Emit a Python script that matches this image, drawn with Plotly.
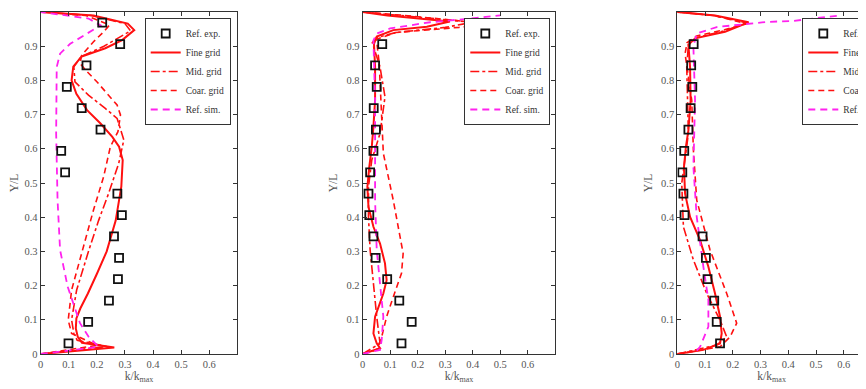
import plotly.graph_objects as go

# ---------------- data ----------------
EXP_Y = [0.969, 0.906, 0.844, 0.781, 0.719, 0.656, 0.594, 0.531, 0.469, 0.406,
         0.344, 0.281, 0.219, 0.156, 0.094, 0.031]
EXP_Y_23 = EXP_Y[1:]

P1_EXP_X = [0.219, 0.283, 0.163, 0.093, 0.146, 0.213, 0.073, 0.087, 0.273, 0.289,
            0.261, 0.279, 0.275, 0.243, 0.169, 0.099]
P2_EXP_X = [0.071, 0.045, 0.051, 0.040, 0.048, 0.039, 0.027, 0.021, 0.024, 0.039,
            0.047, 0.089, 0.133, 0.178, 0.141]
P3_EXP_X = [0.059, 0.050, 0.054, 0.048, 0.040, 0.025, 0.018, 0.022, 0.026, 0.091,
            0.103, 0.109, 0.133, 0.142, 0.154]

P1_FINE_Y = [0, 0.019, 0.033, 0.05, 0.075, 0.104, 0.133, 0.177, 0.236, 0.30, 0.39, 0.489,
             0.567, 0.606, 0.635, 0.674, 0.713, 0.761, 0.800, 0.840, 0.870, 0.894, 0.918,
             0.947, 0.966, 0.990, 1.0]
P1_FINE_X = [0, 0.262, 0.147, 0.132, 0.125, 0.127, 0.141, 0.168, 0.201, 0.235, 0.267, 0.287,
             0.292, 0.279, 0.255, 0.213, 0.165, 0.127, 0.110, 0.116, 0.146, 0.23, 0.29,
             0.333, 0.31, 0.188, 0]
P1_MID_Y = [0, 0.022, 0.040, 0.06, 0.10, 0.187, 0.30, 0.39, 0.47, 0.558, 0.626, 0.689,
            0.718, 0.757, 0.796, 0.84, 0.87, 0.90, 0.945, 0.966, 0.99, 1.0]
P1_MID_X = [0, 0.235, 0.13, 0.118, 0.11, 0.128, 0.17, 0.206, 0.242, 0.278, 0.296, 0.272,
            0.23, 0.17, 0.122, 0.118, 0.145, 0.225, 0.32, 0.30, 0.18, 0]
P1_COAR_Y = [0, 0.025, 0.06, 0.099, 0.187, 0.333, 0.421, 0.518, 0.606, 0.65, 0.699, 0.728,
             0.757, 0.796, 0.83, 0.85, 0.874, 0.913, 0.942, 0.962, 0.99, 1.0]
P1_COAR_X = [0, 0.20, 0.11, 0.098, 0.110, 0.158, 0.188, 0.224, 0.248, 0.275, 0.284, 0.272,
             0.242, 0.20, 0.160, 0.140, 0.146, 0.188, 0.224, 0.245, 0.16, 0]
P1_SIM_Y = [0.0, 0.021, 0.05, 0.09, 0.197, 0.304, 0.45, 0.645, 0.839, 0.878, 0.907, 0.937,
            0.961, 0.981, 1.0]
P1_SIM_X = [0, 0.206, 0.171, 0.14, 0.096, 0.069, 0.06, 0.055, 0.057, 0.069, 0.105, 0.165,
            0.213, 0.17, 0]

P2_FINE_Y = [0, 0.017, 0.031, 0.06, 0.109, 0.177, 0.216, 0.265, 0.323, 0.372, 0.43, 0.489,
             0.547, 0.606, 0.664, 0.742, 0.839, 0.907, 0.928, 0.947, 0.957, 0.972, 0.99, 1.0]
P2_FINE_X = [0, 0.063, 0.051, 0.039, 0.045, 0.075, 0.087, 0.081, 0.063, 0.039, 0.021, 0.017,
             0.024, 0.033, 0.039, 0.045, 0.045, 0.041, 0.051, 0.111, 0.233, 0.317, 0.09, 0]
P2_MID_Y = [0, 0.031, 0.109, 0.206, 0.304, 0.401, 0.489, 0.567, 0.645, 0.752, 0.839, 0.91,
            0.925, 0.94, 0.955, 0.97, 0.99, 1.0]
P2_MID_X = [0, 0.063, 0.051, 0.039, 0.027, 0.021, 0.021, 0.033, 0.063, 0.081, 0.063, 0.035,
            0.05, 0.12, 0.30, 0.40, 0.12, 0]
P2_COAR_Y = [0, 0.012, 0.05, 0.109, 0.167, 0.236, 0.294, 0.45, 0.587, 0.664, 0.75, 0.85,
             0.92, 0.94, 0.955, 0.965, 0.99, 1.0]
P2_COAR_X = [0, 0.051, 0.069, 0.087, 0.111, 0.141, 0.147, 0.111, 0.075, 0.07, 0.065, 0.06,
             0.05, 0.12, 0.35, 0.47, 0.15, 0]
P2_SIM_Y = [0, 0.012, 0.041, 0.109, 0.206, 0.304, 0.45, 0.742, 0.917, 0.937, 0.952, 0.97,
            0.98, 0.99]
P2_SIM_X = [0, 0.063, 0.069, 0.075, 0.063, 0.051, 0.045, 0.045, 0.039, 0.051, 0.1, 0.245,
            0.38, 0.5]

P3_FINE_Y = [0, 0.012, 0.031, 0.06, 0.109, 0.177, 0.255, 0.333, 0.401, 0.469, 0.547, 0.606,
             0.654, 0.742, 0.839, 0.904, 0.923, 0.942, 0.97, 0.99, 1.0]
P3_FINE_X = [0, 0.094, 0.154, 0.160, 0.154, 0.136, 0.112, 0.082, 0.046, 0.028, 0.024, 0.031,
             0.040, 0.048, 0.046, 0.04, 0.064, 0.172, 0.257, 0.136, 0]
P3_MID_Y = [0, 0.026, 0.05, 0.099, 0.177, 0.275, 0.372, 0.499, 0.645, 0.839, 0.904, 0.925,
            0.945, 0.968, 0.99, 1.0]
P3_MID_X = [0, 0.142, 0.178, 0.154, 0.106, 0.058, 0.022, 0.016, 0.040, 0.034, 0.04, 0.07,
            0.17, 0.25, 0.13, 0]
P3_COAR_Y = [0, 0.021, 0.05, 0.09, 0.177, 0.304, 0.45, 0.596, 0.742, 0.878, 0.91, 0.93,
             0.948, 0.966, 0.99, 1.0]
P3_COAR_X = [0, 0.154, 0.19, 0.214, 0.178, 0.118, 0.07, 0.058, 0.052, 0.028, 0.035, 0.07,
             0.17, 0.25, 0.13, 0]
P3_SIM_Y = [0.01, 0.021, 0.08, 0.158, 0.255, 0.401, 0.547, 0.742, 0.898, 0.937, 0.956, 0.971,
            0.974, 0.99]
P3_SIM_X = [0.07, 0.082, 0.112, 0.112, 0.094, 0.07, 0.058, 0.064, 0.058, 0.07, 0.142, 0.322,
            0.418, 0.586]

NAMES = ["Ref. exp.", "Fine grid", "Mid. grid", "Coar. grid", "Ref. sim."]
X_TICKS = [0, 0.1, 0.2, 0.3, 0.4, 0.5, 0.6]
Y_TICKS = [0, 0.1, 0.2, 0.3, 0.4, 0.5, 0.6, 0.7, 0.8, 0.9, 1]

# ---------------- styles ----------------
RED = "#ff1010"
MAG = "#ff22ee"
FONT = "Liberation Serif"
OFF = 8                      # page body margin
W, H = 866 - OFF, 389 - OFF  # figure size that fits the window


def px_x(v):
    return (v - OFF) / W


def px_y(v):
    return (389 - v) / H


panels = [
    dict(exp=(P1_EXP_X, EXP_Y), fine=(P1_FINE_X, P1_FINE_Y), mid=(P1_MID_X, P1_MID_Y),
         coar=(P1_COAR_X, P1_COAR_Y), sim=(P1_SIM_X, P1_SIM_Y)),
    dict(exp=(P2_EXP_X, EXP_Y_23), fine=(P2_FINE_X, P2_FINE_Y), mid=(P2_MID_X, P2_MID_Y),
         coar=(P2_COAR_X, P2_COAR_Y), sim=(P2_SIM_X, P2_SIM_Y)),
    dict(exp=(P3_EXP_X, EXP_Y_23), fine=(P3_FINE_X, P3_FINE_Y), mid=(P3_MID_X, P3_MID_Y),
         coar=(P3_COAR_X, P3_COAR_Y), sim=(P3_SIM_X, P3_SIM_Y)),
]

# pixel geometry of the three frames (window pixels)
x_px = [(40.7, 237.3), (362.7, 555.3), (677.3, 866.0)]
x_rng = [0.7, 0.7, 0.68]
y_dom = [px_y(354), px_y(12)]
legend_pos = [(px_x(230.7), "right"), (px_x(550.3), "right"), (px_x(802.3), "left")]

fig = go.Figure()
for i, p in enumerate(panels):
    sfx = "" if i == 0 else str(i + 1)
    xa, ya = "x" + sfx, "y" + sfx
    lg = "legend" + sfx
    fig.add_trace(go.Scatter(x=p["fine"][0], y=p["fine"][1], mode="lines", name=NAMES[1],
                             line=dict(color=RED, width=2), xaxis=xa, yaxis=ya, legend=lg,
                             legendrank=2))
    fig.add_trace(go.Scatter(x=p["mid"][0], y=p["mid"][1], mode="lines", name=NAMES[2],
                             line=dict(color=RED, width=1.6, dash="dashdot"), xaxis=xa,
                             yaxis=ya, legend=lg, legendrank=3))
    fig.add_trace(go.Scatter(x=p["coar"][0], y=p["coar"][1], mode="lines", name=NAMES[3],
                             line=dict(color=RED, width=1.6, dash="6px,4px"), xaxis=xa,
                             yaxis=ya, legend=lg, legendrank=4))
    fig.add_trace(go.Scatter(x=p["sim"][0], y=p["sim"][1], mode="lines", name=NAMES[4],
                             line=dict(color=MAG, width=1.8, dash="7px,5px"), xaxis=xa,
                             yaxis=ya, legend=lg, legendrank=5))
    fig.add_trace(go.Scatter(x=p["exp"][0], y=p["exp"][1], mode="markers", name=NAMES[0],
                             marker=dict(symbol="square-open", size=8, color="#111",
                                         line=dict(width=1.8, color="#111")),
                             xaxis=xa, yaxis=ya, legend=lg, legendrank=1))

    axis_common = dict(showgrid=False, zeroline=False, showline=True, linecolor="#333",
                       linewidth=1, ticks="inside", ticklen=4, tickcolor="#333",
                       tickfont=dict(family=FONT, size=10.5, color="#555"),
                       automargin=False)
    fig.layout["xaxis" + sfx] = dict(
        axis_common, domain=[px_x(x_px[i][0]), min(1.0, px_x(x_px[i][1]))],
        range=[0, x_rng[i]],
        anchor=ya, tickvals=X_TICKS, ticktext=[str(v) for v in X_TICKS],
        mirror="ticks",
        title=dict(text="k/k<sub>max</sub>", font=dict(family=FONT, size=11.5, color="#555"),
                   standoff=2))
    fig.layout["yaxis" + sfx] = dict(
        axis_common, domain=y_dom, range=[0, 1], anchor=xa, tickvals=Y_TICKS,
        ticktext=[str(v) for v in Y_TICKS], mirror=("ticks" if i < 2 else False),
        title=dict(text="Y/L", font=dict(family=FONT, size=11.5, color="#555"), standoff=6))
    fig.layout[lg] = dict(x=legend_pos[i][0], xanchor=legend_pos[i][1], y=px_y(18),
                          yanchor="top", bgcolor="white", bordercolor="#333", borderwidth=1,
                          font=dict(family=FONT, size=9.5, color="#333"), itemwidth=30,
                          tracegroupgap=0, traceorder="normal")

fig.update_layout(width=W, height=H, margin=dict(l=0, r=0, t=0, b=0, autoexpand=False),
                  paper_bgcolor="white", plot_bgcolor="white", showlegend=True,
                  font=dict(family=FONT))
fig.write_html("out.html")
